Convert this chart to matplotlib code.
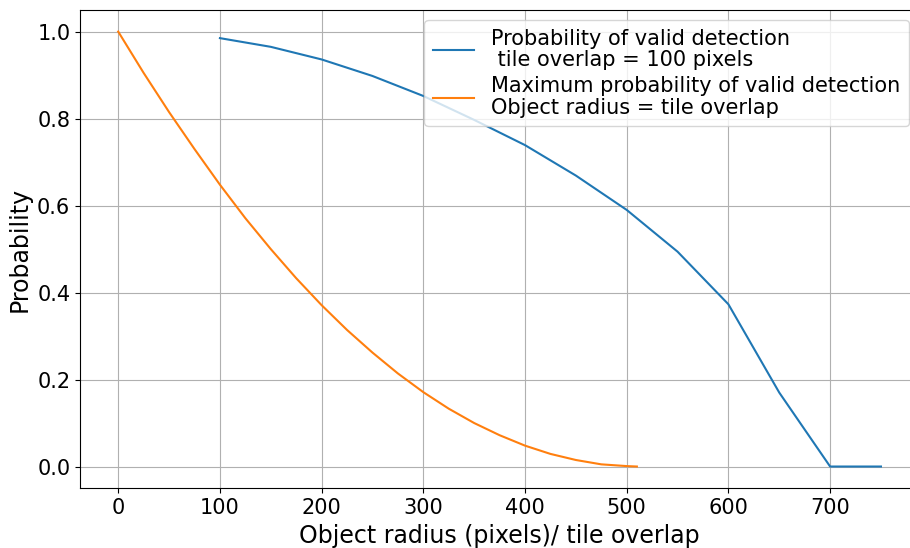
import matplotlib.pyplot as plt

# blue: probability of valid detection, tile overlap = 100 px
radius = [100, 150, 200, 250, 300, 350, 400, 450, 500, 550, 600, 650, 700, 750]
p_valid = [0.985, 0.965, 0.936, 0.898, 0.852, 0.797, 0.739, 0.669, 0.590, 0.494, 0.373, 0.170, 0.0, 0.0]

# orange: maximum probability vs object radius / tile overlap
ratio = [0, 25, 50, 75, 100, 125, 150, 175, 200, 225, 250, 275, 300, 325,
         350, 375, 400, 425, 450, 475, 500, 510]
p_max = [1.0, 0.905, 0.815, 0.730, 0.648, 0.571, 0.500, 0.433, 0.371, 0.314,
         0.262, 0.214, 0.171, 0.133, 0.100, 0.072, 0.048, 0.029, 0.015, 0.005,
         0.001, 0.0]

fig = plt.figure(figsize=(9.1, 5.48), dpi=100)
ax = fig.add_axes([0.088, 0.109, 0.922, 0.873])

ax.plot(radius, p_valid, label='Probability of valid detection\n tile overlap = 100 pixels')
ax.plot(ratio, p_max, label='Maximum probability of valid detection\nObject radius = tile overlap')

ax.set_xlabel('Object radius (pixels)/ tile overlap', fontsize=17)
ax.set_ylabel('Probability', fontsize=17)
ax.tick_params(labelsize=15)
ax.grid(True)
leg = ax.legend(fontsize=15, loc='upper right', labelspacing=0.3)
for t in leg.get_texts():
    t.set_linespacing(1.1)

fig.savefig('out.png')
